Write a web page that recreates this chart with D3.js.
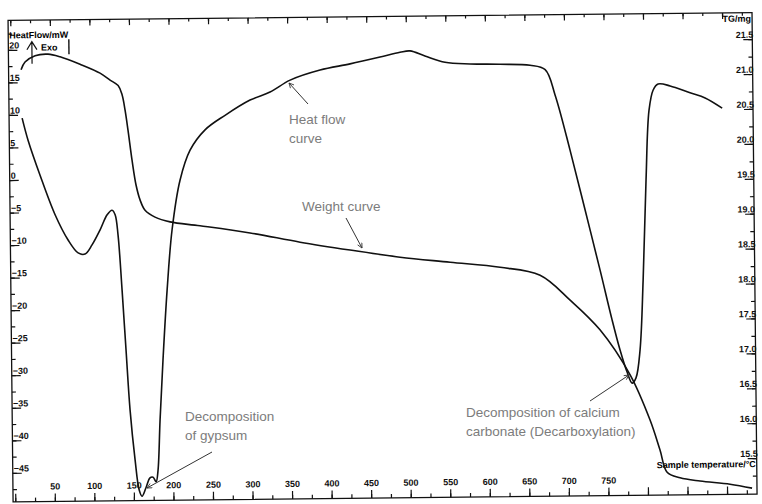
<!DOCTYPE html>
<html>
<head>
<meta charset="utf-8">
<script src="https://cdn.jsdelivr.net/npm/d3@7"></script>
<style>
  body { margin: 0; background: #fff; }
  svg { display: block; }
</style>
</head>
<body>
<div id="chart"></div>
<script>
//heat flow curve (DSC), temperature in °C and heat flow in mW
const hfTemp = [13.7, 20.9, 35.6, 54.1, 70.2, 82.7, 91.4, 100.4, 110.8, 119.9, 126.2, 130, 133.4, 137.8, 142, 146.3, 152, 156.7, 160.3, 165.4, 170.6, 174.5, 178.3, 180.9, 184.1, 188.6, 194.7, 201.8, 212.5, 225.6, 244.8, 270.3, 302.1, 327.5, 353, 391, 429, 467, 492.3, 505, 523.8, 549.1, 580.7, 618.7, 656.6, 675.6, 687.8, 706, 724.2, 742.4, 757, 766.6, 775.2, 781.4, 786.4, 791.9, 796.7, 801.7, 806.4, 811.9, 818.2, 833.4, 858.5, 877.5, 898.9];
const hfValue = [9.5, 6.1, 0.7, -5.4, -9.3, -11.3, -11.5, -10.1, -7.8, -5.5, -4.8, -5.5, -8.6, -17.1, -26.3, -35.5, -43.2, -47.8, -48.8, -47.5, -46.0, -45.9, -46.6, -44.8, -37.1, -27.9, -17.2, -7.9, -0.3, 4.3, 7.4, 9.6, 11.9, 13.1, 14.9, 16.4, 17.3, 18.3, 19.0, 19.2, 18.4, 17.4, 17.1, 17.0, 16.8, 16.1, 12.2, 3.7, -5.5, -14.8, -22.5, -27.1, -30.5, -32.2, -31.4, -27.1, -16.4, -1.0, 9.7, 12.8, 13.7, 13.4, 12.3, 11.5, 9.9];

//weight curve (TG), temperature in °C and mass in mg
const tgTemp = [13, 18.1, 30.9, 47.3, 62.5, 87.6, 112.8, 125.4, 135.5, 140.3, 143.9, 147.4, 152.1, 156.9, 161.7, 167.9, 180.4, 199.4, 237.2, 300.4, 363.5, 426.6, 489.7, 552.9, 616, 666.5, 704.1, 741.5, 779, 803.6, 815.8, 824.5, 840.8, 866, 903.9, 931.7];
const tgValue = [21.17, 21.28, 21.37, 21.39, 21.35, 21.24, 21.11, 21.01, 20.93, 20.8, 20.58, 20.29, 19.86, 19.5, 19.29, 19.14, 19.04, 18.97, 18.91, 18.8, 18.66, 18.54, 18.43, 18.35, 18.27, 18.15, 17.79, 17.36, 16.71, 16.06, 15.63, 15.31, 15.23, 15.18, 15.13, 15.07];

//tick values
const tempTicks = d3.range(50, 800, 50);
const tempMinorTicks = d3.range(0, 950, 25);
const hfTicks = d3.range(-45, 25, 5);
const hfMinorTicks = d3.range(-47.5, 25, 2.5);
const tgTicks = d3.range(15.5, 21.75, 0.5);
const tgMinorTicks = d3.range(15.25, 21.75, 0.25);

//size
const width = 762;
const height = 504;
const frame = { left: 10.5, right: 754.5, top: 16.5, bottom: 498 };

//the scanned plot is turned a little
const tilt = -0.6;

const x = d3.scaleLinear().domain([-2.8, 937.9]).range([frame.left, frame.right]);
const yHF = d3.scaleLinear().domain([20, -45]).range([46, 469]);
const yTG = d3.scaleLinear().domain([21.5, 15.5]).range([43, 462]);

const axisFont = "'Liberation Sans', Arial, sans-serif";
const noteColor = "#7c7c7c";

const svg = d3
  .select("#chart")
  .append("svg")
  .attr("width", width)
  .attr("height", height);

svg
  .append("defs")
  .append("marker")
  .attr("id", "head")
  .attr("viewBox", "0 0 10 10")
  .attr("refX", 9)
  .attr("refY", 5)
  .attr("markerWidth", 6)
  .attr("markerHeight", 6)
  .attr("orient", "auto")
  .append("path")
  .attr("d", "M1,1L9,5L1,9")
  .attr("fill", "none")
  .attr("stroke", "#333")
  .attr("stroke-width", 1.4);

const plot = svg
  .append("g")
  .attr("transform", `rotate(${tilt},${width / 2},${height / 2})`);

//frame
plot
  .append("rect")
  .attr("x", frame.left)
  .attr("y", frame.top)
  .attr("width", frame.right - frame.left)
  .attr("height", frame.bottom - frame.top)
  .attr("fill", "none")
  .attr("stroke", "#111")
  .attr("stroke-width", 1.3);

//tick styling helper
function styleAxis(g) {
  g.select(".domain").remove();
  g.selectAll("line").attr("stroke", "#111").attr("stroke-width", 1.2);
  g.selectAll("text")
    .attr("font-family", axisFont)
    .attr("font-weight", "bold")
    .attr("font-size", 9)
    .attr("fill", "#111");
}

//bottom axis, ticks pointing up
plot
  .append("g")
  .attr("transform", `translate(0,${frame.bottom})`)
  .call(d3.axisTop(x).tickValues(tempMinorTicks).tickSize(4).tickFormat(""))
  .call(styleAxis);
plot
  .append("g")
  .attr("transform", `translate(0,${frame.bottom})`)
  .call(d3.axisTop(x).tickValues(d3.range(0, 950, 50)).tickSize(8).tickFormat((d) => (tempTicks.includes(d) ? d : "")))
  .call(styleAxis)
  .call((g) => g.selectAll("text").attr("y", -12));

//top axis, ticks pointing down
plot
  .append("g")
  .attr("transform", `translate(0,${frame.top})`)
  .call(d3.axisBottom(x).tickValues(tempMinorTicks).tickSize(3).tickFormat(""))
  .call(styleAxis);
plot
  .append("g")
  .attr("transform", `translate(0,${frame.top})`)
  .call(d3.axisBottom(x).tickValues(d3.range(0, 950, 50)).tickSize(6).tickFormat(""))
  .call(styleAxis);

//left axis: heat flow
plot
  .append("g")
  .attr("transform", `translate(${frame.left},0)`)
  .call(d3.axisRight(yHF).tickValues(hfMinorTicks).tickSize(4).tickFormat(""))
  .call(styleAxis);
plot
  .append("g")
  .attr("transform", `translate(${frame.left},0)`)
  .call(d3.axisRight(yHF).tickValues(hfTicks).tickSize(9).tickFormat(d3.format("d")))
  .call(styleAxis)
  .call((g) =>
    g.selectAll("text").attr("x", 1).attr("dy", "-0.2em").attr("text-anchor", "start")
  );

//right axis: weight
plot
  .append("g")
  .attr("transform", `translate(${frame.right},0)`)
  .call(d3.axisLeft(yTG).tickValues(tgMinorTicks).tickSize(4).tickFormat(""))
  .call(styleAxis);
plot
  .append("g")
  .attr("transform", `translate(${frame.right},0)`)
  .call(d3.axisLeft(yTG).tickValues(tgTicks).tickSize(9).tickFormat(d3.format(".1f")))
  .call(styleAxis)
  .call((g) =>
    g.selectAll("text").attr("x", 1).attr("dy", "-0.2em").attr("text-anchor", "end")
  );

//axis titles
plot
  .append("text")
  .attr("x", frame.left + 1)
  .attr("y", frame.top + 18)
  .attr("font-family", axisFont)
  .attr("font-weight", "bold")
  .attr("font-size", 9)
  .text("HeatFlow/mW");
plot
  .append("text")
  .attr("x", frame.right - 1)
  .attr("y", frame.top + 9)
  .attr("text-anchor", "end")
  .attr("font-family", axisFont)
  .attr("font-weight", "bold")
  .attr("font-size", 9)
  .text("TG/mg");
plot
  .append("text")
  .attr("x", frame.right - 1)
  .attr("y", frame.bottom - 27)
  .attr("text-anchor", "end")
  .attr("font-family", axisFont)
  .attr("font-weight", "bold")
  .attr("font-size", 9)
  .text("Sample temperature/°C");

//Exo marker
const exo = plot.append("g").attr("transform", `translate(${x(27)},${yHF(20)})`);
exo
  .append("path")
  .attr("d", "M0,-8V14M-5,0L0,-8L5,0")
  .attr("fill", "none")
  .attr("stroke", "#111")
  .attr("stroke-width", 1.2);
exo
  .append("text")
  .attr("x", 9)
  .attr("y", 1)
  .attr("font-family", axisFont)
  .attr("font-weight", "bold")
  .attr("font-size", 9)
  .text("Exo");
exo
  .append("line")
  .attr("x1", 37)
  .attr("x2", 37)
  .attr("y1", -10)
  .attr("y2", 5)
  .attr("stroke", "#111")
  .attr("stroke-width", 1.4);

//curves
const line = d3.line().curve(d3.curveCatmullRom.alpha(0.5));

plot
  .append("path")
  .attr("d", line(hfTemp.map((t, i) => [x(t), yHF(hfValue[i])])))
  .attr("fill", "none")
  .attr("stroke", "#111")
  .attr("stroke-width", 1.6);

plot
  .append("path")
  .attr("d", line(tgTemp.map((t, i) => [x(t), yTG(tgValue[i])])))
  .attr("fill", "none")
  .attr("stroke", "#111")
  .attr("stroke-width", 1.6);

//annotations
const notes = [
  { lines: ["Heat flow", "curve"], x: 289, y: 124, from: [308, 104], to: [289, 83] },
  { lines: ["Weight curve"], x: 302, y: 211, from: [346, 218], to: [362, 248] },
  { lines: ["Decomposition", "of gypsum"], x: 185, y: 421, from: [212, 452], to: [147, 488] },
  {
    lines: ["Decomposition of calcium", "carbonate (Decarboxylation)"],
    x: 466,
    y: 417,
    from: [590, 401],
    to: [629, 375],
  },
];

notes.forEach((n) => {
  const t = svg
    .append("text")
    .attr("x", n.x)
    .attr("y", n.y)
    .attr("font-family", "'Liberation Sans', Arial, sans-serif")
    .attr("font-size", 13.5)
    .attr("fill", noteColor);
  n.lines.forEach((l, i) =>
    t.append("tspan").attr("x", n.x).attr("dy", i ? 19 : 0).text(l)
  );
  svg
    .append("line")
    .attr("x1", n.from[0])
    .attr("y1", n.from[1])
    .attr("x2", n.to[0])
    .attr("y2", n.to[1])
    .attr("stroke", "#333")
    .attr("stroke-width", 1)
    .attr("marker-end", "url(#head)");
});
</script>
</body>
</html>
